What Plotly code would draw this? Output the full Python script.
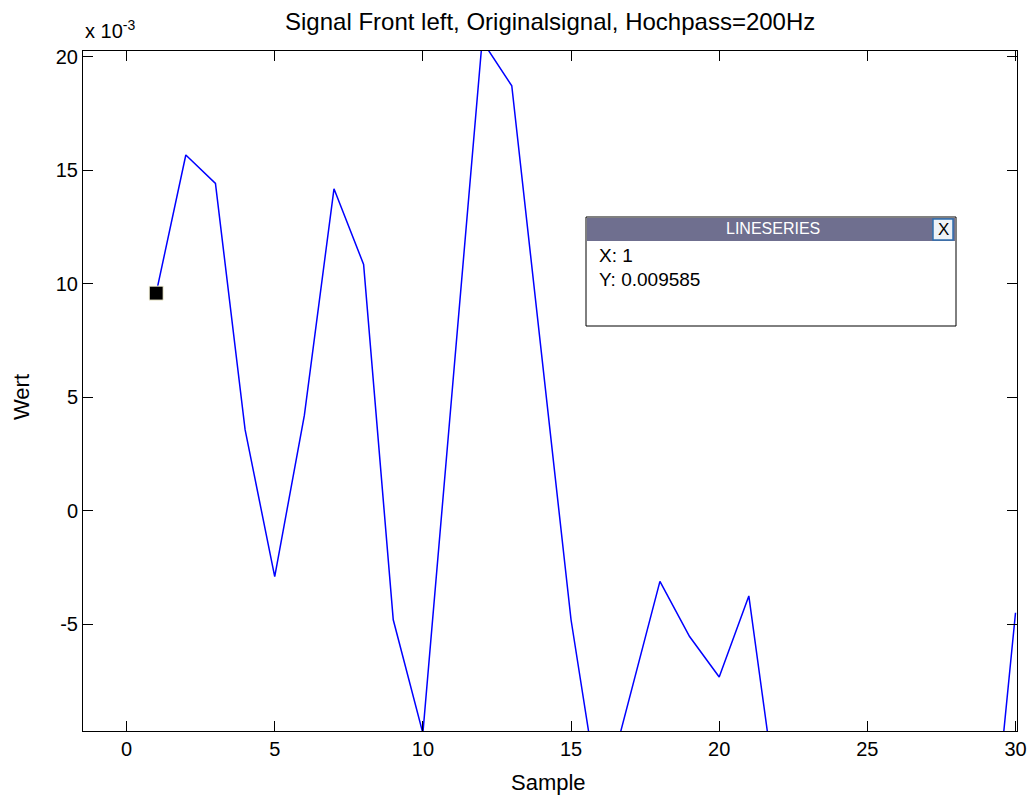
import plotly.graph_objects as go

# ---- data ----
samples = list(range(1, 31))
values = [0.009585, 0.01567, 0.01442, 0.00357, -0.0029, 0.0042, 0.01418, 0.01085, -0.0048, -0.0098,
          0.00545, 0.0207, 0.01872, 0.0070, -0.0048, -0.0131, -0.0081, -0.00311, -0.00554, -0.00732,
          -0.00375, -0.0133, -0.0142, -0.0155, -0.0120, -0.0168, -0.0131, -0.0149, -0.0177, -0.00449]
x_ticks = [0, 5, 10, 15, 20, 25, 30]
y_ticks = [-0.005, 0.0, 0.005, 0.010, 0.015, 0.020]
y_tick_labels = ["-5", "0", "5", "10", "15", "20"]
title_text = "Signal Front left, Originalsignal, Hochpass=200Hz"
tip_x, tip_y = samples[0], values[0]

W, H = 1031, 798
L, R, T, B = 83, 1017, 51, 731   # plot box in pixels
FONT = "Liberation Sans, Arial, sans-serif"


def px(x):
    return (x - L) / (R - L)


def py(y):
    return (B - y) / (B - T)


fig = go.Figure()
fig.add_trace(go.Scatter(x=samples, y=values, mode="lines",
                         line=dict(color="#0000ff", width=1.5), showlegend=False, hoverinfo="skip"))
fig.add_trace(go.Scatter(x=[tip_x], y=[tip_y], mode="markers",
                         marker=dict(symbol="square", size=14, color="black",
                                     line=dict(color="#fbf8dc", width=1)),
                         showlegend=False, hoverinfo="skip"))

axis_common = dict(showgrid=False, zeroline=False, showline=True, linecolor="#000000", linewidth=1,
                   mirror="ticks", ticks="inside", ticklen=10, tickcolor="#000000", tickwidth=1,
                   automargin=False,
                   tickfont=dict(family=FONT, size=20, color="#000000"))

fig.update_layout(
    width=W, height=H,
    margin=dict(l=L, r=W - R, t=T, b=H - B, pad=0),
    plot_bgcolor="white", paper_bgcolor="white",
    font=dict(family=FONT, color="#000000"),
    xaxis=dict(range=[-1.47, 30.05], tickvals=x_ticks, **axis_common),
    yaxis=dict(range=[-0.00970, 0.02025], tickvals=y_ticks, ticktext=y_tick_labels, **axis_common),
)

ann = []
ann.append(dict(text=title_text, x=0.5, y=py(22), xref="paper", yref="paper", showarrow=False,
                xanchor="center", yanchor="middle", font=dict(family=FONT, size=24, color="#000")))
ann.append(dict(text="Sample", x=px(548), y=py(782), xref="paper", yref="paper", showarrow=False,
                xanchor="center", yanchor="middle", font=dict(family=FONT, size=22, color="#000")))
ann.append(dict(text="Wert", x=px(21), y=py(397), xref="paper", yref="paper", showarrow=False,
                textangle=-90, xanchor="center", yanchor="middle",
                font=dict(family=FONT, size=22, color="#000")))
ann.append(dict(text="x 10<sup>-3</sup>", x=px(83), y=py(44), xref="paper", yref="paper", showarrow=False,
                xanchor="left", yanchor="bottom", font=dict(family=FONT, size=20, color="#000")))

# data tip box
shapes = [
    dict(type="rect", xref="paper", yref="paper", x0=px(586), x1=px(956), y0=py(326), y1=py(217),
         fillcolor="white", line=dict(color="black", width=1), layer="above"),
    dict(type="rect", xref="paper", yref="paper", x0=px(587), x1=px(955), y0=py(241), y1=py(218),
         fillcolor="#6f6f8f", line=dict(width=0), layer="above"),
    dict(type="rect", xref="paper", yref="paper", x0=px(933), x1=px(953), y0=py(240), y1=py(219),
         fillcolor="#eef2f7", line=dict(color="#2f6fb0", width=1.5), layer="above"),
]
ann.append(dict(text="LINESERIES", x=px(773), y=py(229), xref="paper", yref="paper", showarrow=False,
                xanchor="center", yanchor="middle", font=dict(family=FONT, size=16, color="white")))
ann.append(dict(text="X", x=px(943), y=py(229.5), xref="paper", yref="paper", showarrow=False,
                xanchor="center", yanchor="middle", font=dict(family=FONT, size=17, color="black")))
ann.append(dict(text=f"X: {tip_x}", x=px(597), y=py(255), xref="paper", yref="paper", showarrow=False,
                xanchor="left", yanchor="middle", font=dict(family=FONT, size=19, color="black")))
ann.append(dict(text=f"Y: {tip_y:.6f}", x=px(597), y=py(279), xref="paper", yref="paper", showarrow=False,
                xanchor="left", yanchor="middle", font=dict(family=FONT, size=19, color="black")))

fig.update_layout(annotations=ann, shapes=shapes)
fig.write_html("out.html", config={"displayModeBar": False},
               post_script="document.body.style.margin='0';document.body.style.overflow='hidden';")
